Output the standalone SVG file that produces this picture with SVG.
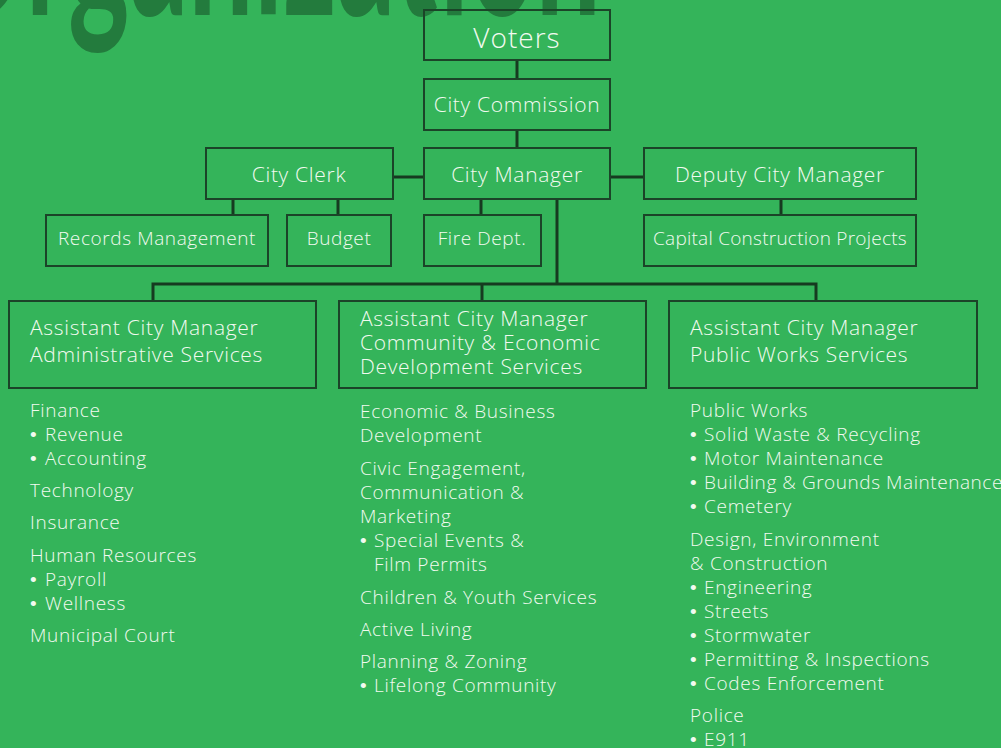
<svg xmlns="http://www.w3.org/2000/svg" width="1001" height="748" viewBox="0 0 1001 748">
<style>
.bg{fill:#34b45a}
.title{font-family:"Lato","Liberation Sans",sans-serif;font-weight:700;font-size:210px;fill:#237b3d}
.box{fill:none;stroke:#1b4428;stroke-width:2}
.conn{fill:none;stroke:#163a20;stroke-width:3}
text{font-family:"Open Sans","Liberation Sans",sans-serif;font-weight:300;fill:#f2faf0}
.lbl{font-size:21px;text-anchor:middle;letter-spacing:0.7px}
.sm{font-size:19px;text-anchor:middle;letter-spacing:0.6px}
.big{font-size:28px;text-anchor:middle;letter-spacing:1px}
.hd{font-size:21px;letter-spacing:0.7px}
.li{font-size:19px;letter-spacing:0.7px}
.b{font-family:"Liberation Sans",sans-serif;font-weight:400}
</style>
<rect class="bg" x="0" y="0" width="1001" height="748"/>
<text class="title" x="-67" y="15" textLength="668" lengthAdjust="spacingAndGlyphs">Organization</text>
<g id="connectors">
<path class="conn" d="M517,60V79M517,130V148M393,177H423M610,177H644M233,199V215M338,199V215M481,199V215M781,199V215M557,199V284M153,301V284H816V301M482,284V301"/>
</g>
<g id="voters"><rect class="box" x="424" y="10" width="186" height="50"/><text class="big" x="517" y="48">Voters</text></g>
<g id="commission"><rect class="box" x="424" y="79" width="186" height="51"/><text class="lbl" x="517" y="112">City Commission</text></g>
<g id="clerk"><rect class="box" x="206" y="148" width="187" height="51"/><text class="lbl" x="299" y="182">City Clerk</text></g>
<g id="manager"><rect class="box" x="424" y="148" width="186" height="51"/><text class="lbl" x="517" y="182">City Manager</text></g>
<g id="deputy"><rect class="box" x="644" y="148" width="272" height="51"/><text class="lbl" x="780" y="182">Deputy City Manager</text></g>
<g id="records"><rect class="box" x="46" y="215" width="222" height="51"/><text class="sm" x="157" y="245">Records Management</text></g>
<g id="budget"><rect class="box" x="287" y="215" width="104" height="51"/><text class="sm" x="339" y="245">Budget</text></g>
<g id="fire"><rect class="box" x="424" y="215" width="117" height="51"/><text class="sm" x="482" y="245">Fire Dept.</text></g>
<g id="capital"><rect class="box" x="644" y="215" width="272" height="51"/><text class="sm" x="780" y="245" style="letter-spacing:0.25px">Capital Construction Projects</text></g>
<g id="acm-admin"><rect class="box" x="9" y="301" width="307" height="87"/>
<text class="hd" x="30" y="335">Assistant City Manager</text><text class="hd" x="30" y="362">Administrative Services</text>
<g class="li"><text x="30" y="417">Finance</text><text x="30" y="441"><tspan class="b">• </tspan><tspan x="45">Revenue</tspan></text><text x="30" y="465"><tspan class="b">• </tspan><tspan x="45">Accounting</tspan></text><text x="30" y="497">Technology</text><text x="30" y="529">Insurance</text><text x="30" y="562">Human Resources</text><text x="30" y="586"><tspan class="b">• </tspan><tspan x="45">Payroll</tspan></text><text x="30" y="610"><tspan class="b">• </tspan><tspan x="45">Wellness</tspan></text><text x="30" y="642">Municipal Court</text></g></g>
<g id="acm-ced"><rect class="box" x="339" y="301" width="307" height="87"/>
<text class="hd" x="360" y="326">Assistant City Manager</text><text class="hd" x="360" y="350">Community &amp; Economic</text><text class="hd" x="360" y="374">Development Services</text>
<g class="li"><text x="360" y="418">Economic &amp; Business</text><text x="360" y="442">Development</text><text x="360" y="475">Civic Engagement,</text><text x="360" y="499">Communication &amp;</text><text x="360" y="523">Marketing</text><text x="360" y="547"><tspan class="b">• </tspan><tspan x="374">Special Events &amp;</tspan></text><text x="374" y="571">Film Permits</text><text x="360" y="604">Children &amp; Youth Services</text><text x="360" y="636">Active Living</text><text x="360" y="668">Planning &amp; Zoning</text><text x="360" y="692"><tspan class="b">• </tspan><tspan x="374">Lifelong Community</tspan></text></g></g>
<g id="acm-pw"><rect class="box" x="669" y="301" width="308" height="87"/>
<text class="hd" x="690" y="335">Assistant City Manager</text><text class="hd" x="690" y="362">Public Works Services</text>
<g class="li"><text x="690" y="417">Public Works</text><text x="690" y="441"><tspan class="b">• </tspan><tspan x="704">Solid Waste &amp; Recycling</tspan></text><text x="690" y="465"><tspan class="b">• </tspan><tspan x="704">Motor Maintenance</tspan></text><text x="690" y="489"><tspan class="b">• </tspan><tspan x="704" style="letter-spacing:0.55px">Building &amp; Grounds Maintenance</tspan></text><text x="690" y="513"><tspan class="b">• </tspan><tspan x="704">Cemetery</tspan></text><text x="690" y="546">Design, Environment</text><text x="690" y="570">&amp; Construction</text><text x="690" y="594"><tspan class="b">• </tspan><tspan x="704">Engineering</tspan></text><text x="690" y="618"><tspan class="b">• </tspan><tspan x="704">Streets</tspan></text><text x="690" y="642"><tspan class="b">• </tspan><tspan x="704">Stormwater</tspan></text><text x="690" y="666"><tspan class="b">• </tspan><tspan x="704">Permitting &amp; Inspections</tspan></text><text x="690" y="690"><tspan class="b">• </tspan><tspan x="704">Codes Enforcement</tspan></text><text x="690" y="722">Police</text><text x="690" y="746"><tspan class="b">• </tspan><tspan x="704">E911</tspan></text></g></g>
</svg>
